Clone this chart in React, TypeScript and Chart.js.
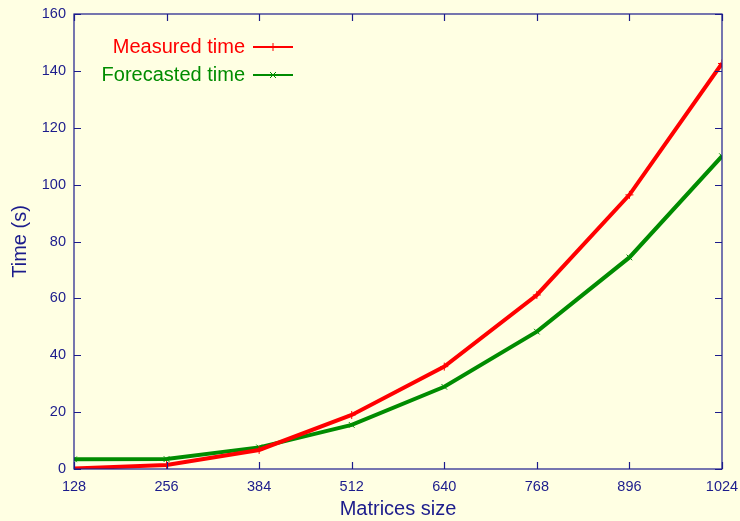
import React, { useEffect, useRef } from "react";
import { Chart, registerables } from "chart.js";

Chart.register(...registerables);

// Matrix sizes and timings (seconds)
const matrixSizes = [128, 256, 384, 512, 640, 768, 896, 1024];
const measuredTime = [0.2, 1.4, 6.7, 19.0, 36.0, 61.2, 96.4, 142.6];
const forecastedTime = [3.4, 3.5, 7.6, 15.5, 28.9, 48.3, 74.4, 110.0];

const xTicks = [128, 256, 384, 512, 640, 768, 896, 1024];
const yTicks = [0, 20, 40, 60, 80, 100, 120, 140, 160];

const NAVY = "#1c1c8c";
const RED = "#ff0000";
const GREEN = "#008c00";
const BG = "#ffffe3";
const FONT = "'Liberation Sans', Arial, Helvetica, sans-serif";
const TICK_LEN = 7;

// Frame with inward ticks on all four sides (mirrored)
const framePlugin = {
  id: "frame",
  afterDatasetsDraw(chart: any) {
    const { ctx, chartArea } = chart;
    const { left, right, top, bottom } = chartArea;
    const xs = chart.scales.x;
    const ys = chart.scales.y;
    ctx.save();
    ctx.strokeStyle = NAVY;
    ctx.lineWidth = 1.2;
    ctx.strokeRect(left, top, right - left, bottom - top);
    ctx.beginPath();
    for (const v of xTicks) {
      const px = Math.round(xs.getPixelForValue(v)) + 0.5;
      ctx.moveTo(px, bottom);
      ctx.lineTo(px, bottom - TICK_LEN);
      ctx.moveTo(px, top);
      ctx.lineTo(px, top + TICK_LEN);
    }
    for (const v of yTicks) {
      const py = Math.round(ys.getPixelForValue(v)) + 0.5;
      ctx.moveTo(left, py);
      ctx.lineTo(left + TICK_LEN, py);
      ctx.moveTo(right, py);
      ctx.lineTo(right - TICK_LEN, py);
    }
    ctx.stroke();
    ctx.restore();
  },
};

// Key in the upper-left corner: right-aligned label then sample line with marker
const keyPlugin = {
  id: "key",
  afterDraw(chart: any) {
    const { ctx, chartArea } = chart;
    const textRight = chartArea.left + 171;
    const lineStart = chartArea.left + 179;
    const lineEnd = chartArea.left + 219;
    const rows = [
      { y: chartArea.top + 33, ds: chart.data.datasets[0], marker: "plus" },
      { y: chartArea.top + 61, ds: chart.data.datasets[1], marker: "x" },
    ];
    ctx.save();
    ctx.font = `20px ${FONT}`;
    ctx.textAlign = "right";
    ctx.textBaseline = "middle";
    for (const r of rows) {
      const color = r.ds.borderColor;
      ctx.fillStyle = color;
      ctx.fillText(r.ds.label, textRight, r.y);
      ctx.strokeStyle = color;
      ctx.lineWidth = 2;
      ctx.beginPath();
      ctx.moveTo(lineStart, r.y);
      ctx.lineTo(lineEnd, r.y);
      ctx.stroke();
      const cx = (lineStart + lineEnd) / 2;
      ctx.lineWidth = 1;
      ctx.beginPath();
      if (r.marker === "plus") {
        ctx.moveTo(cx, r.y - 4);
        ctx.lineTo(cx, r.y + 4);
      } else {
        ctx.moveTo(cx - 3, r.y - 3);
        ctx.lineTo(cx + 3, r.y + 3);
        ctx.moveTo(cx - 3, r.y + 3);
        ctx.lineTo(cx + 3, r.y - 3);
      }
      ctx.stroke();
    }
    ctx.restore();
  },
};

export default function App() {
  const canvasRef = useRef<HTMLCanvasElement | null>(null);

  useEffect(() => {
    const canvas = canvasRef.current;
    if (!canvas) return;
    const chart = new Chart(canvas, {
      type: "line",
      data: {
        datasets: [
          {
            label: "Measured time",
            data: matrixSizes.map((x, i) => ({ x, y: measuredTime[i] })),
            borderColor: RED,
            backgroundColor: RED,
            borderWidth: 4,
            pointStyle: "cross",
            pointRadius: 4,
            pointBorderWidth: 1,
            pointBorderColor: RED,
            tension: 0,
            fill: false,
          },
          {
            label: "Forecasted time",
            data: matrixSizes.map((x, i) => ({ x, y: forecastedTime[i] })),
            borderColor: GREEN,
            backgroundColor: GREEN,
            borderWidth: 4,
            pointStyle: "crossRot",
            pointRadius: 4,
            pointBorderWidth: 1,
            pointBorderColor: GREEN,
            tension: 0,
            fill: false,
          },
        ],
      },
      options: {
        responsive: false,
        animation: false,
        events: [],
        layout: { padding: { top: 14, right: 18, left: 0, bottom: 0 } },
        plugins: {
          legend: { display: false },
          tooltip: { enabled: false },
        },
        scales: {
          x: {
            type: "linear",
            min: 128,
            max: 1024,
            afterBuildTicks: (s: any) => {
              s.ticks = xTicks.map((v) => ({ value: v }));
            },
            afterFit: (s: any) => {
              s.height = 52;
              s.paddingLeft = 0;
              s.paddingRight = 0;
            },
            ticks: {
              color: NAVY,
              font: { family: FONT, size: 14.5 },
              padding: 1,
              maxRotation: 0,
              autoSkip: false,
              callback: (v: any) => String(v),
            },
            grid: { display: false },
            border: { display: false },
            title: {
              display: true,
              text: "Matrices size",
              color: NAVY,
              font: { family: FONT, size: 20 },
              padding: { top: 0, bottom: 0 },
            },
          },
          y: {
            type: "linear",
            min: 0,
            max: 160,
            afterBuildTicks: (s: any) => {
              s.ticks = yTicks.map((v) => ({ value: v }));
            },
            afterFit: (s: any) => {
              s.width = 74;
              s.paddingTop = 0;
              s.paddingBottom = 0;
            },
            ticks: {
              color: NAVY,
              font: { family: FONT, size: 14.5 },
              padding: 0,
              callback: (v: any) => String(v),
            },
            grid: { display: false },
            border: { display: false },
            title: {
              display: true,
              text: "Time (s)",
              color: NAVY,
              font: { family: FONT, size: 20 },
              padding: { top: 8, bottom: 0 },
            },
          },
        },
      },
      plugins: [framePlugin, keyPlugin],
    } as any);
    return () => chart.destroy();
  }, []);

  return (
    <div
      style={{
        position: "absolute",
        left: 0,
        top: 0,
        width: 740,
        height: 521,
        background: BG,
      }}
    >
      <canvas ref={canvasRef} width={740} height={521} style={{ display: "block" }} />
    </div>
  );
}
